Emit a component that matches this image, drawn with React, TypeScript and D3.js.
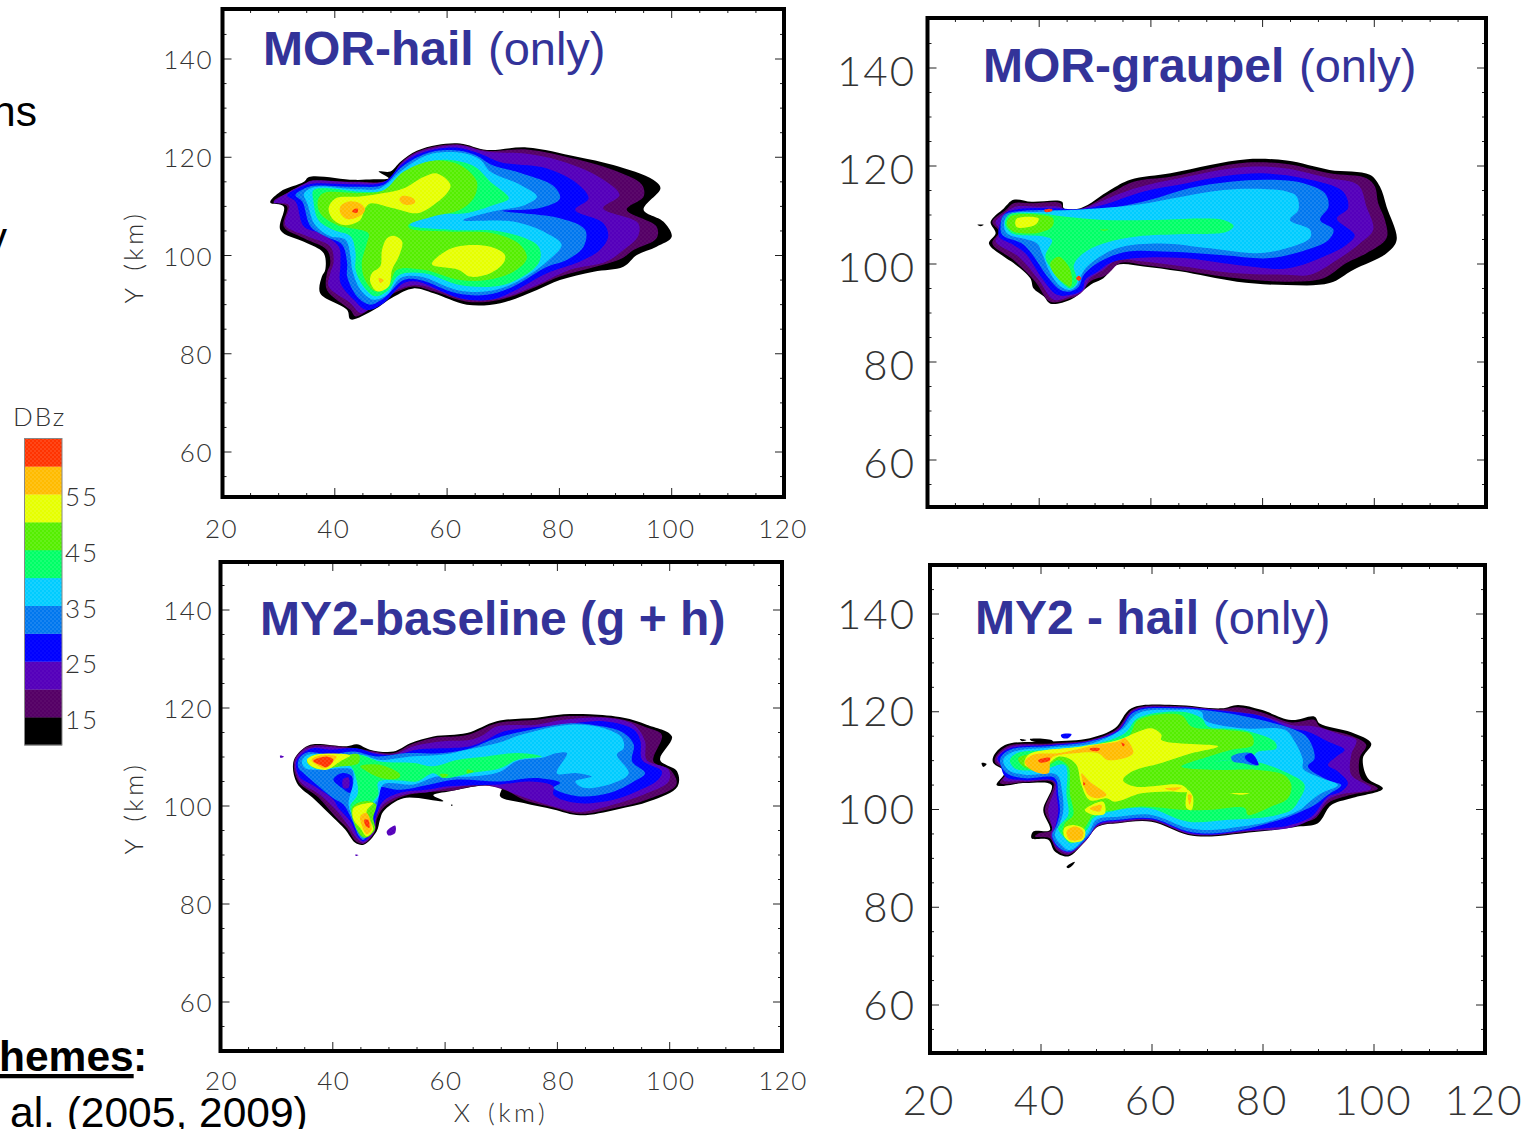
import React from "react";
import * as d3 from "d3";

type P = [number, number];
const dbzColors = ["#000000", "#550066", "#5500bb", "#0000ff", "#0077ee", "#00ccff", "#00ff66", "#55ee00", "#e6ff00", "#ffbb00", "#ff3300"];
const legendTicks = [15, 25, 35, 45, 55];
const xTicks = [20, 40, 60, 80, 100, 120];
const yTicks = [60, 80, 100, 120, 140];
const minorX = d3.range(20, 121, 5);
const minorY = d3.range(55, 150, 5);

// ---------- MOR-hail contours (km)
const h1Black: P[] = [[28.5,110.8],[30.3,113],[34.5,115],[35.4,116],[43.4,115.4],[46.9,115.5],[49.6,115.7],[47.8,117.1],[49.9,117.1],[51.7,119.1],[54.6,121.3],[58.2,122.5],[62.3,122.8],[67.1,121.5],[74.2,122],[83.1,120.1],[89.6,118.4],[96.7,115.4],[98,113.7],[95,109.3],[98.5,106.9],[100,103.8],[97.3,101.8],[93.8,100.1],[91.4,97.7],[86.1,96.7],[80.1,95],[76,93],[69.5,90.3],[63.5,90],[57.6,92.3],[54,93.3],[50.5,91.6],[46.9,88.9],[42.8,87],[42.2,88.9],[37.4,92.3],[37.7,95.7],[38.3,97.1],[38,100.5],[34.5,102.8],[30.3,105.2],[30.9,110]];
const h1DarkPurple: P[] = [[29.1,111],[31.5,112.7],[34.8,114.7],[35.7,115.2],[43.4,115],[49.6,115.4],[51.7,118.8],[54.6,121.1],[58.2,122.3],[62.3,122.6],[67.1,121.3],[74.2,121.6],[83.1,119.6],[89.6,117.4],[94.7,114.4],[95,112],[92,109.3],[97.3,105.9],[97.3,103.5],[93.2,101.1],[91.1,99.4],[86.1,97.6],[80.1,95.7],[76,93.7],[69.5,91],[63.5,90.6],[57.6,92.7],[54,93.7],[50.5,92.3],[46.9,89.6],[43.7,87.6],[42.8,88.9],[38.6,93],[38.6,96.4],[39.2,98.4],[38.6,101.1],[34.5,103.5],[30.9,105.9],[31.5,110]];
const h1Purple: P[] = [[29.1,110.8],[31.8,112.9],[34.8,114.7],[36,115.2],[43.4,114.9],[49.3,115.2],[51.7,118.6],[54.6,120.9],[58.2,122],[62.3,122.4],[67.1,121.1],[74.2,120.7],[80.1,119.3],[87.2,115.9],[90.7,112.3],[87.8,109.6],[94,106.6],[94,103.9],[91.4,101.1],[88.4,98.8],[81.9,97.1],[76,94],[69.5,91.3],[63.5,91],[54.6,94],[50.5,92.7],[47.2,90],[44.6,88.3],[42.8,90.3],[38.9,93.7],[39.2,96.4],[39.8,98.8],[39.2,101.8],[35.1,103.9],[31.2,106.2],[31.8,110.3]];
const h1Blue: P[] = [[31.5,112.2],[33.9,113.9],[36,114.6],[43.4,114.5],[48.7,114.9],[51.7,118.3],[54.6,120.5],[58.2,121.7],[62.3,121.9],[65.9,120.7],[69.5,119],[77.8,117.7],[83.1,114.7],[85.2,111.6],[82.8,109.3],[87.8,106.6],[88.7,103.9],[87.2,101.1],[83.7,98.8],[77.8,96.4],[71.8,92.7],[67.7,91],[62.3,91.3],[54.6,94.7],[52.3,94.4],[48.7,90.3],[45.7,88.9],[43.4,91],[41,94.4],[41,98.4],[40.7,101.8],[37.4,104.5],[34.5,105.9],[33,111]];
const h1LightBlue: P[] = [[33,112.3],[34.5,113.6],[36.2,114.2],[44,114],[48.7,114.4],[51.7,117.8],[54.9,120.1],[58.2,121.3],[62.3,121.3],[65.3,120.3],[67.7,118.6],[73.6,116.6],[78.9,114.2],[80.1,111.6],[76.3,109.6],[69.8,109.1],[80.1,107.6],[84.6,105.2],[84.3,101.8],[81.3,99.1],[77.8,97.7],[71.8,93.7],[67.1,92],[61.7,92.3],[55.2,95],[52.3,95],[48.7,91.3],[46.3,90],[44,91.6],[42.2,95.7],[42.2,98.4],[41.3,102.2],[38.3,103.9],[35.7,105.9],[34.2,111]];
const h1Cyan: P[] = [[34.5,112.5],[36.2,113.9],[44,113.5],[48.1,113.7],[51.7,117.1],[55.2,119.8],[58.2,120.9],[63,120.8],[65.9,119.5],[67.7,117.1],[73,114.4],[76,112],[73.9,110.3],[68.3,109],[62.9,107.2],[71.8,106.9],[77.8,104.5],[80.4,102.2],[77.8,98.8],[71.8,94.3],[67.1,92.7],[61.7,93],[55.2,95.7],[51.7,95.4],[49.3,92],[46.9,91],[44.6,93],[43.1,97.1],[42.8,99.8],[41.9,103.2],[39.2,103.9],[36.5,106.2],[35.1,110.6]];
const h1Green: P[] = [[36.2,111],[36.2,113.3],[38.6,113.7],[44.5,113],[48.7,113.3],[52.3,116.7],[55.8,118.8],[59.4,119.5],[63.5,118.8],[65.3,117.8],[67.7,115],[71,111.6],[68.3,110.3],[63.2,108.6],[57.6,108.3],[53.4,106.2],[61.2,105.2],[69.5,104.9],[76.3,101.8],[76.3,98.4],[71.8,94.7],[68.3,93.7],[62.3,94],[55.8,96.4],[51.4,96],[49.6,93],[47.2,91.7],[45.1,93.7],[43.7,97.1],[43.7,100.5],[42.8,103.9],[39.8,105.2],[37.1,107.2]];
const h1Lime: P[] = [[37,111.3],[38,112.7],[44.5,112.7],[48.7,113.3],[52.3,117.1],[57.6,119.3],[62.3,118.4],[65.3,115],[64.7,111.6],[62.3,109.3],[57,107.8],[53.1,106.2],[53.4,105.5],[60,104.9],[68.3,104.5],[73,102.2],[74.2,99.4],[71.8,96.7],[67.1,95],[62.3,95],[55.8,97.1],[51.1,97.1],[49.6,94],[47.2,92.7],[45.4,95],[44.8,98.4],[45.7,102.5],[46,104.5],[40.4,106.2],[37.4,108.6]];
const h1YellowA: P[] = [[58.2,116.7],[60.6,114.4],[60,112.7],[57.6,110.3],[54.6,108.6],[50.5,109.6],[46.3,110.6],[45.4,109.6],[44.5,107.2],[41.6,106.2],[39.5,107.6],[38.9,109.6],[40.1,111.6],[44.5,112],[48.7,112.7],[52.3,113.7],[55.8,116]];
const h1YellowB: P[] = [[50.5,104],[52,102.8],[51.4,99.8],[50.2,97.1],[49.6,93.7],[47.5,92.7],[46.3,94.7],[46.6,96.4],[48.1,97.8],[48.4,101.1],[49.3,103.5]];
const h1YellowC: P[] = [[61.7,101.8],[67.7,101.8],[70.3,100.1],[70,98.4],[67.7,96.4],[64.1,95.7],[62,97.1],[57.3,98.2],[59.1,100.4]];
const h1OrangeA: P[] = [[42.5,111],[44.5,110.6],[45.4,109.3],[44.5,108.1],[42.2,107.4],[41,108.6],[41,110]];
const h1OrangeB: P[] = [[52,112.1],[54,111.6],[54.3,110.8],[53.1,110.3],[52,110.6],[51.5,111.4]];
const h1OrangeC: P[] = [[47.8,95.4],[48.7,95],[48.1,94.4]];
const h1Red: P[] = [[43.4,109.4],[44.1,109.5],[44,108.7],[43.1,108.9]];

// ---------- MOR-graupel contours (km)
const g1Speck: P[] = [[28.9,108],[30.1,108],[29.5,107.7]];
const g1Black: P[] = [[31.3,108.6],[33.7,111.4],[35.4,113.1],[38.7,112.7],[44.1,112.7],[44.4,111.4],[47.4,111.4],[52.7,115.1],[56.3,117.2],[63.5,118.5],[70.6,120.2],[77.2,121.4],[84.3,121.1],[92,119.2],[99.2,118.2],[101,115.8],[102.2,111.7],[104,104.9],[102.2,102.2],[96.2,98.8],[92,96.1],[84.3,95.7],[75.4,96.4],[65.2,98.5],[58.7,99.5],[53.9,99.8],[51.5,97.1],[49.7,96.1],[48,94.7],[45.6,92.7],[42,91.9],[40.8,93.4],[39,95],[38.4,97.1],[35.4,100.2],[33.7,101.5],[31,104.2],[32.2,106.3]];
const g1DarkPurple: P[] = [[31.6,108.6],[34,111],[35.4,112.4],[39,112.4],[43.8,112.4],[44.4,111],[47.4,111.2],[53.3,114.8],[56.9,116.8],[63.5,117.8],[70.6,119.5],[77.2,120.7],[84.3,120.4],[92,118.5],[98.6,117.5],[100.1,115.8],[100.7,112.4],[101.9,109],[102.2,105.3],[98.6,102.2],[95,100.2],[90.9,97.1],[84.3,96.4],[75.4,97.1],[65.2,98.8],[58.7,99.8],[54.5,100.2],[52.1,97.8],[49.1,96.4],[47.4,94],[45.6,93],[42,92.3],[39.3,96.4],[35.4,100.8],[31.6,104.2],[32.8,106.6]];
const g1Purple: P[] = [[32.2,108.6],[34.2,110.7],[35.7,111.7],[39.6,111.7],[43.5,111.7],[45,111],[47.4,111.2],[54.5,114.4],[59.3,116.1],[66.4,117.8],[72.4,119.2],[78.4,119.9],[84.3,119.5],[92,117.5],[97.1,116.1],[98.6,111.7],[99.8,107],[97.4,104.2],[93.3,100.8],[88.5,97.8],[84.3,97.8],[75.4,98.1],[65.8,99.5],[58.7,100.5],[53.9,100.8],[51.5,98.8],[49.1,97.1],[47.7,94.4],[45.6,93.4],[42.6,92.7],[39.9,96.8],[36.3,101.5],[32.2,104.6],[33.1,106.6]];
const g1Blue: P[] = [[33.1,108.6],[34,110.4],[36.3,111.2],[42.6,111.4],[47.4,111.2],[51.5,112.1],[58.7,114.8],[66.4,116.5],[73.6,118],[80.1,118.5],[87.3,117.5],[94.4,114.8],[95.3,111.4],[93.3,109.3],[96.5,105.9],[95,103.9],[90.9,101.5],[84.3,99.1],[75.4,99.8],[65.8,101.2],[57.5,101.2],[52.7,100.2],[50.6,98.5],[48.3,96.8],[47.7,94.7],[45.6,93.7],[43.2,93.7],[40.5,97.1],[37.5,102.2],[35.4,103.9],[32.8,105.6]];
const g1LightBlue: P[] = [[33.1,108],[33.7,110],[37.8,110.9],[46.8,111],[52.7,111.4],[59.9,113.1],[67,115.5],[74.2,116.8],[81.3,117.2],[87.3,116.5],[91.2,114.4],[91.8,111.7],[90.3,109],[92.7,107],[91.8,104.9],[87.9,102.9],[81.3,101.2],[73,101.8],[63.5,102.5],[55.7,102.5],[50.9,100.5],[48,97.8],[47.1,95.4],[45.6,94.4],[43.8,94.7],[41.7,97.1],[38.4,102.5],[36.9,104.2],[33.4,105.9]];
const g1Cyan: P[] = [[33.7,108.3],[34.5,110],[41.4,110.7],[48.6,111.2],[57.5,112.1],[65.8,113.8],[73,115.1],[80.1,115.3],[84.3,114.8],[86.1,113.8],[86.4,111],[84.9,109],[88.5,107],[88.5,105.3],[84.3,103.2],[78.9,102.2],[70.6,103.2],[61.7,104.2],[53.9,103.2],[48.6,99.5],[47.4,97.4],[46.8,95.7],[45.6,94.7],[43.8,95.4],[42,98.1],[40.5,102.2],[39.6,104.2],[34.2,106.3]];
const g1Green: P[] = [[33.9,108],[34.5,110],[39,110.4],[44.4,109.7],[51.5,109],[59.9,109],[69.4,109.3],[73,109],[74.8,107.8],[73.6,106.6],[65.8,106.1],[57.5,105.6],[51.5,104.2],[47.9,102.2],[46.2,99.8],[46.8,96.4],[45.6,95],[44.1,96.1],[42.3,98.8],[41.1,101.5],[42.3,104.9],[40.8,105.6],[35.1,106.3]];
const g1LimeA: P[] = [[34.2,108],[34.8,109.7],[40.2,110],[42.5,109.3],[42.3,107.6],[39.9,106.4],[35.4,106.6]];
const g1LimeB: P[] = [[43.5,101.5],[45.3,99.5],[45.9,96.8],[45.6,95.4],[44.4,96.1],[42.6,98.1],[42,100.2]];
const g1Sliver: P[] = [[50.9,107],[52.4,107],[51.5,106.8]];
const g1Yellow: P[] = [[36,109.3],[39.9,109.3],[39.3,108],[36,107.5],[35.7,108.4]];
const g1RedA: P[] = [[40.9,111],[42.3,111.2],[42.3,110.8],[41.1,110.6]];
const g1RedB: P[] = [[47.1,97.6],[47.5,97.1],[47.1,96.6],[46.6,97.1]];

// ---------- MY2-baseline contours (km)
const b1Black: P[] = [[33,109.1],[34.8,111.8],[36.5,112.6],[42.5,112.2],[44.3,112.6],[46.6,111.5],[50.8,111.1],[53.8,112.8],[57.9,114.2],[63.9,114.9],[69.2,117.3],[76.3,118],[81.1,118.7],[85.8,118.7],[91.8,118],[95.9,116.6],[100.4,114.2],[98.3,109.4],[101.3,107.1],[101.4,104],[96.5,101],[90.6,99.3],[84,98.1],[79.3,99.3],[74,100.6],[69.8,102],[70.1,104],[66.8,104.2],[60.9,103],[57.9,102.2],[59.7,101],[52.6,101.6],[49,98.9],[48.4,97.2],[47.8,94.8],[45.5,92.1],[44,92.5],[42.2,95.2],[40.1,97.6],[36.8,101.3],[33.6,104.7]];
const b1DarkPurple: P[] = [[33.1,109.1],[34.8,111.7],[36.5,112.4],[42.5,112],[46.6,111.3],[50.8,110.8],[53.8,112.5],[57.9,113.9],[63.9,114.5],[69.2,116.9],[76.3,117.6],[81.1,118.3],[85.8,118.3],[91.8,117.6],[95.9,116],[98.6,114.5],[97.1,109.1],[100.1,107.4],[101.2,104.4],[95.9,101.3],[90.6,99.7],[84,98.4],[79.3,99.7],[74,101.3],[71,103.1],[66.8,104.2],[60.9,103.1],[57.9,102.9],[52.6,102],[49,99.6],[47.8,97.2],[47.5,94.8],[45.5,92.3],[44.1,92.8],[42.5,95.5],[40.4,97.9],[37.4,101.8],[33.9,104.9]];
const b1Purple: P[] = [[33.3,109.1],[34.8,111.4],[36.5,112],[42.5,111.7],[46.6,111],[50.8,110.5],[54.4,112.2],[59.7,113.2],[64.5,113.5],[66.8,114.5],[69.2,116.2],[76.3,116.6],[81.1,117.6],[88.2,118],[93.6,116.6],[95.6,113.2],[95.9,109.4],[99.8,107.4],[99.8,105],[95.3,102.3],[90,100.3],[84,98.8],[78.1,100.3],[72.8,102.3],[69.8,103.7],[66.8,104.4],[60.9,103.7],[57.3,102.9],[52.6,102.3],[49,100.3],[47.7,97.6],[47.4,94.8],[45.5,92.5],[44.4,93.2],[42.8,95.9],[41,98.6],[37.7,102.3],[34.2,105]];
const b1Blue: P[] = [[33.6,109.4],[35.1,111.1],[36.5,111.8],[39.5,111.5],[44.3,111.8],[47.8,110.6],[51.4,110.5],[54.9,111.5],[64.5,112.2],[67.4,113.5],[70.4,115.2],[81.1,116.6],[88.2,117.3],[93.6,115.6],[94.8,113.2],[95.1,109.4],[98.6,107.1],[98,105.4],[94.2,103],[90,101.3],[83.5,100.6],[79.3,102.3],[79.3,104],[75.2,105],[69.8,104.4],[60.3,104],[56.7,103.3],[52,102.7],[49,101],[47.7,97.9],[47.2,95.2],[45.5,92.8],[44.6,93.5],[43.1,96.9],[41,99.6],[40.1,101.3],[36.2,104.4],[34.2,105.7],[33.5,107.7]];
const b1LightBlue: P[] = [[33.9,109.4],[35.4,110.9],[39.5,110.5],[43.7,111.1],[47.8,110.1],[53.2,110.8],[59.7,110.8],[64.5,111.8],[69.2,113.9],[76.3,115.8],[82.3,116.9],[88.2,116.2],[91.8,114.9],[93.6,112.5],[93.3,109.1],[95.6,106.7],[93.6,105],[89.4,102.7],[83.5,102],[79.3,103.7],[80.5,104.7],[76.3,105.7],[69.8,105],[62.1,105.4],[57.3,104.4],[52,103.3],[48.1,103.7],[48.1,101],[47.2,98.2],[46.6,95.2],[45.5,93.1],[44.7,93.8],[43.4,97.2],[41.9,100.3],[40.1,101.6],[37.1,104.4],[34.8,106.7],[33.9,107.7]];
const b1HoleBlue: P[] = [[40.1,105.4],[41.6,106.7],[43.4,106],[43.1,102.7],[41.6,103.7]];
const b1HolePurple: P[] = [[41.8,105.4],[42.8,105.8],[42.8,103.7],[41.9,103.7]];
const b1Cyan: P[] = [[34.5,109.1],[35.7,110.5],[40.1,110.1],[44.9,110.5],[48.4,109.4],[53.8,110.1],[59.7,110.5],[63.9,111.5],[69.2,112.8],[74,114.7],[82.3,116.6],[88.2,115.9],[91.5,113.9],[91.8,111.8],[90.6,110.5],[92.7,106.7],[90,104.7],[84.7,103.7],[83.2,105],[86.1,106],[83.5,106.7],[79.9,106.7],[81.7,110.8],[79.9,110.8],[77.5,109.9],[72.8,109.2],[69.8,107],[64.5,106],[58.5,106],[54.4,104.4],[49,104.4],[48.1,101.6],[46.9,99.6],[46.6,95.5],[45.5,93.5],[44.9,94.2],[43.7,97.2],[42.8,100.3],[43.7,105],[43.4,107.4],[41.6,107.7],[37.1,107.4],[35.1,107.7]];
const b1Green: P[] = [[35.4,109.1],[36.5,110.1],[40.7,110.1],[44.6,110.5],[48.4,109.1],[54.4,108.8],[57.9,108.1],[62.1,109.4],[67.4,110.1],[72.8,110.8],[77.2,110.1],[72.8,109.4],[69.8,107.7],[64.5,106.7],[59.7,105.7],[57.9,106.7],[54.9,105],[52,105.2],[48.1,104.9],[48.1,102.3],[46.9,100.3],[46.6,95.5],[45.5,93.8],[45.2,94.5],[44,97.2],[43.1,99.9],[44.4,102.3],[44.3,105],[43.1,108.1],[41,108.1],[37.1,107.7]];
const b1LimeA: P[] = [[35.4,109.1],[36.5,110.3],[42.5,110.5],[44.6,110.5],[44.6,108.8],[41.6,108.1],[36.8,107.7]];
const b1LimeB: P[] = [[44.9,108.1],[48.4,108.4],[52,106.4],[51.7,105.7],[49,105.6],[46,107.1]];
const b1LimeC: P[] = [[63.9,107.4],[65.1,107.1],[63.9,106.7]];
const b1LimeD: P[] = [[59.1,106.5],[60.6,106.4],[59.7,105.8]];
const b1LimeE: P[] = [[43.4,99.6],[45.8,101],[47.7,100.3],[47.2,97.6],[47.5,95.2],[45.8,93.5],[44.6,94.5]];
const b1YellowA: P[] = [[35.4,109.4],[37.1,110.5],[43.1,110.3],[41.3,109.1],[38.9,107.4],[36.2,108.1]];
const b1YellowB: P[] = [[43.7,99.6],[47.2,100.6],[46,98.9],[47.2,95.2],[46,93.8],[44.9,95.5],[43.7,97.2]];
const b1OrangeA: P[] = [[36.2,109.4],[37.7,110.3],[40.7,110.1],[40.1,109.1],[38.6,107.7],[37.1,108.4]];
const b1OrangeB: P[] = [[44.9,97.9],[46,98.6],[46.9,95.2],[46,94.2],[45.2,95.9]];
const b1RedA: P[] = [[36.5,109.2],[38.9,110.1],[40.1,109.4],[38.9,107.9],[37.7,108.4]];
const b1RedB: P[] = [[45.6,97.2],[46.3,97.2],[46.5,95.5],[45.9,95.9]];
const b1SpeckA: P[] = [[30.6,110.3],[31.3,110.1],[30.7,109.8]];
const b1SpeckB: P[] = [[44,90.1],[44.6,90],[44.1,89.8]];
const b1SpeckC: P[] = [[49.6,94.8],[51.1,96],[51.1,94.5],[49.9,94]];
const b1SpeckD: P[] = [[61.1,100.3],[61.4,100.2],[61.1,100]];

// ---------- MY2-hail contours (km)
const m1Black: P[] = [[31.4,110.8],[33.5,113.2],[41.9,113.9],[48.8,114.6],[53.3,116.6],[56.3,120.7],[64.1,121.4],[72.5,120.7],[75.5,121.4],[79.7,120.4],[85.1,118.3],[89.3,119],[90.2,117.6],[95.9,115.8],[99.5,113.5],[98,110.5],[98.9,106.4],[101.6,104.3],[95.9,102.3],[92.3,100.9],[89.9,97.2],[86.3,96.5],[82.1,95.8],[76.1,95.1],[70.7,94.5],[66.5,94.8],[59.9,97.5],[53.9,97.2],[50.3,96.5],[47.9,93.4],[44.9,90.4],[42.5,91.4],[41.3,93.8],[38.3,94.1],[38.6,95.5],[41.6,95.8],[40.4,99.9],[41.9,105],[37.1,105.4],[32,105],[33.5,107.7],[31.4,109.5]];
const m1DarkPurple: P[] = [[31.7,110.5],[33.8,112.9],[41.9,113.5],[48.8,114.2],[53.6,116.4],[56.6,120.5],[64.1,121.2],[72.5,120.5],[75.5,120.9],[79.7,119.9],[85.1,117.8],[89.3,118.3],[90.2,117],[95.9,115.1],[98.6,113.2],[97.4,110.5],[97.7,106.4],[100.7,104.3],[95.9,103],[91.7,101.3],[89.3,98.1],[86.3,97.2],[82.1,96.2],[76.1,95.3],[70.7,94.7],[66.5,95],[59.9,97.7],[53.9,97.3],[50.3,96.6],[48.1,93.6],[44.9,90.7],[42.8,91.7],[41.6,94.1],[38.9,94.5],[39.5,95.1],[42,95.8],[40.7,99.9],[42.2,105.4],[37.1,105.6],[32.6,105.4],[33.8,107.7],[31.8,109.5]];
const m1Purple: P[] = [[32,110.5],[34.1,112.7],[41.9,113.3],[48.8,114.1],[53.8,116.3],[56.8,120.4],[64.1,121],[72.5,120.3],[79.7,119.2],[85.1,117.3],[89.3,117],[94.1,115.3],[96.8,114.2],[95.9,111.2],[95.9,107.1],[99.5,104.3],[94.1,103.1],[91.7,102],[89.3,98.5],[85.1,96.3],[76.1,95.5],[70.7,94.8],[66.5,95.1],[59.9,97.9],[53.9,97.5],[50.3,96.8],[48.2,93.9],[45,91],[43,92.1],[41.8,94.5],[42,96.2],[41.3,99.9],[42.5,105.6],[37.1,105.8],[33.2,106],[34.1,107.7],[32.3,109.5]];
const m1Blue: P[] = [[32.2,110.5],[34.1,112.4],[41.9,113.2],[48.8,114],[53.8,116.1],[56.8,120.2],[64.1,120.9],[72.5,120.2],[79.7,119.1],[85.1,116.6],[88.1,115.9],[91.7,113.9],[94.7,112.2],[93.2,110.8],[91.7,109.1],[93.5,107.8],[95.3,105.4],[94.1,103.7],[91.7,102.6],[88.7,98.5],[84.5,96.7],[80.9,96.2],[76.1,95.6],[70.7,94.9],[66.5,95.3],[59.9,98],[53.9,97.7],[50.3,97],[48.3,94.1],[45.2,91.3],[43.1,92.2],[42,94.5],[42.5,96.2],[43.1,99.6],[42.8,103],[42.4,105.8],[37.1,106],[33.6,106.7],[32.6,109.5]];
const m1LightBlue: P[] = [[32.6,110.1],[34.4,112.2],[41.9,113],[48.8,113.9],[53.9,116],[56.9,120],[64.1,120.7],[72.5,119.9],[79.7,118.3],[85.7,116.3],[88.1,114.6],[89.3,110.5],[88.1,108.8],[91.7,106],[94.1,105],[91.7,103],[89.3,100.9],[86.9,99.6],[83.9,98.2],[80.9,97.2],[76.1,95.8],[70.7,95.1],[66.5,95.5],[59.9,98.2],[53.9,97.9],[50.3,97.2],[48.5,94.5],[45.2,91.4],[43.1,92.4],[42,94.8],[42.8,96.8],[43.4,99.6],[43.1,103],[42.5,106.4],[37.1,106.4],[33.8,107.4]];
const m1Cyan: P[] = [[33.2,110.1],[35,111.8],[41.9,112.7],[49.1,113.5],[54.5,116.3],[57.5,119.7],[64.1,120.4],[68.9,120],[69.5,118.3],[76.1,116.6],[83.9,116.3],[85.7,113.9],[87.2,110.1],[87.2,108.4],[89.9,106.7],[93.5,105],[90.5,103.3],[88.1,101.3],[86.6,99.9],[80.9,97.5],[76.1,96.5],[70.7,95.8],[66.5,96.2],[59.9,98.9],[53.9,98.5],[50,97.9],[48.5,95.1],[45.2,91.7],[43.4,93.1],[42.5,94.8],[43.4,97.2],[44,99.6],[43.8,103.7],[42.8,107.1],[37.1,107.1],[34.1,108.1]];
const m1Green: P[] = [[34.4,110.1],[35.6,111.5],[41.9,112.2],[49.1,113.2],[55.1,115.6],[57.5,118.7],[65.3,120],[68.9,118.7],[70.1,117],[76.1,116.3],[82.1,113.9],[82.4,112.5],[79.1,111.8],[77.9,110.8],[71.3,109.8],[77.3,110.1],[84.5,107.4],[87.5,105],[86.3,101.6],[85.1,99.9],[80.9,98.5],[73.7,97.9],[66.5,97.5],[59.3,100.3],[53.9,99.9],[49.4,98.2],[48.5,96.2],[45.5,93.1],[44,94.5],[43.1,96.2],[44.9,98.9],[44.6,103],[44.3,109.1],[40.1,108.1],[35.3,108.4]];
const m1HoleLightBlue: P[] = [[74.3,110.8],[77.9,111.5],[79.1,109.1],[76.1,109.5],[74.6,109.8]];
const m1HoleBlue: P[] = [[76.7,110.8],[77.9,111.5],[79.2,109.1],[77.3,109.8]];
const m1Lime: P[] = [[35.9,110.5],[41.9,111.8],[49.1,112.9],[55.7,114.9],[57.5,118.3],[65.3,119.3],[67.1,117],[73.1,116.3],[77.9,115.3],[78.2,113.2],[74.3,112.2],[70.1,110.8],[65.3,108.8],[71.3,108.1],[79.1,108.1],[83.9,107],[85.1,105],[84.5,102.3],[81.5,100.6],[77.3,98.9],[76.7,100.3],[70.1,99.9],[65.9,99.9],[58.1,100.6],[53.3,99.9],[49.4,98.9],[48.2,96.8],[46.1,93.8],[44,94.8],[44.3,97.2],[45.8,98.9],[45.2,103.3],[44.9,108.8],[43.1,110.1],[40.1,108.1],[36.8,108.8]];
const m1YellowMain: P[] = [[37.1,109.1],[37.7,111.2],[47.3,112.9],[53.9,114.2],[57.5,115.9],[59.9,116.6],[61.7,115.3],[61.7,114.2],[71.9,112.9],[67.1,111.5],[61.7,109.5],[56.3,107.7],[54.8,106],[56.9,104.7],[65.3,105],[66.5,103.7],[62.9,103.7],[58.1,103.3],[53.3,101.6],[51.8,102.3],[48.8,101.9],[47.3,105],[46.4,109.1],[44.9,110.5],[43.1,110.8],[40.1,108.4]];
const m1YellowMid: P[] = [[47.9,99.9],[51.2,101.6],[51.5,99.2],[49.4,98.9]];
const m1YellowTail: P[] = [[44.2,96.2],[46.1,96.8],[47.9,95.8],[47.6,93.8],[45.5,93.3],[44.2,94.5]];
const m1YellowBar: P[] = [[66.5,104],[67.4,102.6],[67.1,99.9],[66.2,100.3],[66.2,103]];
const m1YellowSliver: P[] = [[74,103.3],[77.6,103.3],[76.1,103]];
const m1OrangeMain: P[] = [[37.1,109.8],[38.6,111.2],[43.1,111.5],[46.1,112.2],[49.7,113.2],[53.9,113.9],[55.1,114.6],[56.6,111.5],[52.1,110.1],[50.3,111.5],[46.1,111.5],[41.9,110.5],[41.3,107.4],[38.3,108.1]];
const m1OrangeB: P[] = [[47.3,107.4],[48.8,105.7],[51.8,103],[50.3,102.3],[48.5,103]];
const m1OrangeTail: P[] = [[44.6,95.5],[46.1,96.5],[47.6,95.5],[47.3,94],[45.2,93.8]];
const m1OrangeC: P[] = [[48.8,100.2],[50.9,100.9],[50.6,99.6]];
const m1OrangeD: P[] = [[62.3,104.3],[65.3,104.5],[64.1,103.9]];
const m1OrangeE: P[] = [[66.5,103],[67.1,103],[66.8,100.9]];
const m1RedA: P[] = [[39.5,110.1],[41.6,110.6],[41.6,110.1],[39.8,109.6]];
const m1RedB: P[] = [[48.8,112.5],[50.6,112.5],[50.3,112],[48.8,112.2]];
const m1RedC: P[] = [[54.5,113.7],[55.1,113.3],[54.8,112.9]];
const m1RedD: P[] = [[47.6,105.6],[48,105.2],[47.7,104.9]];
const m1SpeckA: P[] = [[29.3,109.5],[30.2,109.3],[29.6,108.7]];
const m1SpeckB: P[] = [[36.2,114.4],[37.4,114.2],[36.5,114]];
const m1SpeckC: P[] = [[38,114.4],[41.9,114.2],[42.2,113.8],[38.3,114]];
const m1SpeckD: P[] = [[44.6,88.3],[46.1,89.3],[45.8,88.7],[44.9,88]];
const m1SpeckE: P[] = [[43.6,115.3],[45.5,115.4],[44.9,114.6],[43.8,114.7]];

type Layer = [number, P[]];
const morHailLayers: Layer[] = [[0,h1Black],[1,h1DarkPurple],[2,h1Purple],[3,h1Blue],[4,h1LightBlue],[5,h1Cyan],[6,h1Green],[7,h1Lime],[8,h1YellowA],[8,h1YellowB],[8,h1YellowC],[9,h1OrangeA],[9,h1OrangeB],[9,h1OrangeC],[10,h1Red]];
const morGraupelLayers: Layer[] = [[0,g1Speck],[0,g1Black],[1,g1DarkPurple],[2,g1Purple],[3,g1Blue],[4,g1LightBlue],[5,g1Cyan],[6,g1Green],[7,g1LimeA],[7,g1LimeB],[7,g1Sliver],[8,g1Yellow],[10,g1RedA],[10,g1RedB]];
const my2BaseLayers: Layer[] = [[2,b1SpeckA],[2,b1SpeckB],[2,b1SpeckC],[0,b1SpeckD],[0,b1Black],[1,b1DarkPurple],[2,b1Purple],[3,b1Blue],[4,b1LightBlue],[3,b1HoleBlue],[2,b1HolePurple],[5,b1Cyan],[6,b1Green],[7,b1LimeA],[7,b1LimeB],[7,b1LimeC],[7,b1LimeD],[7,b1LimeE],[8,b1YellowA],[8,b1YellowB],[9,b1OrangeA],[9,b1OrangeB],[10,b1RedA],[10,b1RedB]];
const my2HailLayers: Layer[] = [[0,m1SpeckA],[0,m1SpeckB],[0,m1SpeckC],[0,m1SpeckD],[3,m1SpeckE],[0,m1Black],[1,m1DarkPurple],[2,m1Purple],[3,m1Blue],[4,m1LightBlue],[5,m1Cyan],[6,m1Green],[4,m1HoleLightBlue],[3,m1HoleBlue],[7,m1Lime],[8,m1YellowMain],[8,m1YellowMid],[8,m1YellowTail],[8,m1YellowBar],[8,m1YellowSliver],[9,m1OrangeMain],[9,m1OrangeB],[9,m1OrangeTail],[9,m1OrangeC],[9,m1OrangeD],[9,m1OrangeE],[10,m1RedA],[10,m1RedB],[10,m1RedC],[10,m1RedD]];

const TITLE = "#333399";
const TICK_FONT = "Lato, 'Open Sans', 'Liberation Sans', sans-serif";

function Panel({ frame, y60, y140, layers, labelSize, xLabelY, yLabelX, showX, labelDy = 0, xLabelDx = 0, children }: any) {
  const x = d3.scaleLinear().domain([20, 120]).range([frame.l, frame.r]);
  const y = d3.scaleLinear().domain([60, 140]).range([y60, y140]);
  const path = d3.line<P>().x((d) => x(d[0])).y((d) => y(d[1])).curve(d3.curveCatmullRomClosed.alpha(0.5));
  const tickCol = "#222";
  const inY = (v: number) => y(v) > frame.t + 2 && y(v) < frame.b - 2;
  return (
    <g>
      {layers.map(([lvl, pts]: Layer, i: number) => (
        <path key={i} d={path(pts) as string} fill={lvl === 0 ? dbzColors[0] : `url(#dither${lvl})`} />
      ))}
      {minorX.map((v) => {
        const len = v % 20 === 0 ? 9 : 4;
        if (v === 20 || v === 120) return null;
        return (
          <g key={v} stroke={tickCol} strokeWidth={1}>
            <line x1={x(v)} x2={x(v)} y1={frame.t} y2={frame.t + len} />
            <line x1={x(v)} x2={x(v)} y1={frame.b} y2={frame.b - len} />
          </g>
        );
      })}
      {minorY.filter(inY).map((v) => {
        const len = v % 20 === 0 ? 9 : 4;
        return (
          <g key={v} stroke={tickCol} strokeWidth={1}>
            <line y1={y(v)} y2={y(v)} x1={frame.l} x2={frame.l + len} />
            <line y1={y(v)} y2={y(v)} x1={frame.r} x2={frame.r - len} />
          </g>
        );
      })}
      <rect x={frame.l} y={frame.t} width={frame.r - frame.l} height={frame.b - frame.t} fill="none" stroke="#000" strokeWidth={4} />
      <g fill="#333" fontFamily={TICK_FONT} fontWeight={300} fontSize={labelSize} letterSpacing={labelSize > 30 ? 2 : 1.5}>
        {yTicks.map((v) => (
          <text key={v} x={yLabelX} y={y(v) + labelDy} textAnchor="end" dominantBaseline="central">{v}</text>
        ))}
        {showX && xTicks.map((v) => (
          <text key={v} x={x(v) - 1 + xLabelDx} y={xLabelY} textAnchor="middle" dominantBaseline="central">{v}</text>
        ))}
      </g>
      {children}
    </g>
  );
}

function Title({ x, y, bold, rx, regular }: any) {
  return (
    <text fontFamily="'Liberation Sans', Arial, sans-serif" fontSize={47} fill={TITLE} y={y}>
      <tspan x={x} y={y} fontWeight={700} fontSize={48}>{bold}</tspan>
      {regular && <tspan x={rx} y={y}>{regular}</tspan>}
    </text>
  );
}

export default function App() {
  const legendY = d3.scaleLinear().domain([10, 65]).range([745, 438.5]);
  return (
    <svg width={1537} height={1129} viewBox="0 0 1537 1129" style={{ position: "absolute", left: 0, top: 0, display: "block" }}>
      <defs>
        {dbzColors.map((c, i) => (
          <pattern key={c} id={`dither${i}`} width={4} height={4} patternUnits="userSpaceOnUse">
            <rect width={4} height={4} fill={c} />
            <circle cx={1} cy={1} r={0.8} fill="#fff" opacity={i >= 4 ? 0.22 : 0.08} />
            <circle cx={3} cy={3} r={0.8} fill="#fff" opacity={i >= 4 ? 0.22 : 0.08} />
          </pattern>
        ))}
      </defs>
      <rect width={1537} height={1129} fill="#fff" />
      <Panel frame={{ l: 222.5, r: 784, t: 9, b: 497 }} y60={452} y140={59} layers={morHailLayers} labelSize={26} xLabelY={527.5} yLabelX={213} showX />
      <Panel frame={{ l: 927.5, r: 1486, t: 18, b: 507 }} y60={460} y140={68} layers={morGraupelLayers} labelSize={42} xLabelY={0} yLabelX={916} showX={false} labelDy={1.5} />
      <Panel frame={{ l: 220.5, r: 782, t: 562, b: 1051 }} y60={1002} y140={610} layers={my2BaseLayers} labelSize={26} xLabelY={1079.5} yLabelX={213} showX xLabelDx={2} />
      <Panel frame={{ l: 930, r: 1485, t: 565, b: 1053 }} y60={1005} y140={614} layers={my2HailLayers} labelSize={42} xLabelY={1099} yLabelX={916} showX labelDy={-1.5} />

      <Title x={263} y={65} bold="MOR-hail" rx={488} regular="(only)" />
      <Title x={983} y={81.5} bold="MOR-graupel" rx={1299} regular="(only)" />
      <Title x={260} y={634.5} bold="MY2-baseline (g + h)" />
      <Title x={975} y={634} bold="MY2 - hail" rx={1213} regular="(only)" />

      <g fill="#333" fontFamily={TICK_FONT} fontWeight={300} fontSize={26} letterSpacing={2}>
        <text x={501} y={1112} textAnchor="middle" dominantBaseline="central" letterSpacing={3.5} wordSpacing={4}>X (km)</text>
        <text transform="translate(133,257) rotate(-90)" textAnchor="middle" dominantBaseline="central" letterSpacing={3.5} wordSpacing={4}>Y (km)</text>
        <text transform="translate(133,808) rotate(-90)" textAnchor="middle" dominantBaseline="central" letterSpacing={3.5} wordSpacing={4}>Y (km)</text>
        <text x={13} y={416} dominantBaseline="central">DBz</text>
        {legendTicks.map((v) => (
          <text key={v} x={65} y={legendY(v) + 2} dominantBaseline="central">{v}</text>
        ))}
      </g>
      {dbzColors.map((c, i) => (
        <rect key={c} x={24.5} width={37.5} y={legendY(15 + 5 * i)} height={legendY(10) - legendY(15) + 0.3} fill={i === 0 ? c : `url(#dither${i})`} />
      ))}
      <rect x={24.5} y={legendY(65)} width={37.5} height={legendY(10) - legendY(65)} fill="none" stroke="#888" strokeWidth={1} />

      <g fontFamily="'Liberation Sans', Arial, sans-serif" fontSize={42.5} fill="#000">
        <text x={37} y={126} textAnchor="end">ns</text>
        <text x={7} y={252} textAnchor="end">y</text>
        <text x={-1} y={1071} fontWeight={700} textDecoration="underline">hemes</text>
        <text x={133} y={1071} fontWeight={700}>:</text>
        <text x={10} y={1127}>al. (2005, 2009)</text>
      </g>
    </svg>
  );
}
